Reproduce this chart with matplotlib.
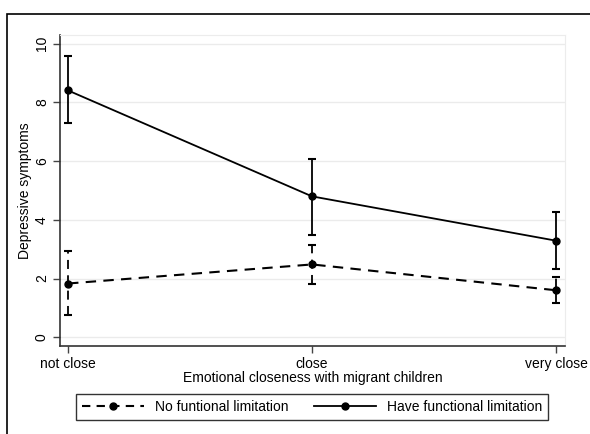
import numpy as np
import matplotlib
matplotlib.use("Agg")
import matplotlib.pyplot as plt
from matplotlib.patches import Rectangle
from matplotlib.lines import Line2D

plt.rcParams['font.family'] = ['Liberation Sans', 'DejaVu Sans']

# Data
categories = ["not close", "close", "very close"]
no_limit = [1.83, 2.48, 1.60]
no_limit_lo = [0.74, 1.83, 1.17]
no_limit_hi = [2.94, 3.14, 2.06]
have_limit = [8.41, 4.80, 3.29]
have_limit_lo = [7.30, 3.50, 2.31]
have_limit_hi = [9.58, 6.08, 4.28]

x = np.arange(len(categories))

fig = plt.figure(figsize=(5.9, 4.34), dpi=100)
ax = fig.add_axes([60 / 590, 1 - 346 / 434, 505 / 590, 311 / 434])

# outer frame
fig.add_artist(Rectangle((7 / 590, -0.1), 1.2, 1.1 - 14 / 434, transform=fig.transFigure,
                         fill=False, edgecolor='black', linewidth=1.2))

dash = (0, (5, 3.5))

# no functional limitation (dashed)
err = [np.array(no_limit) - np.array(no_limit_lo), np.array(no_limit_hi) - np.array(no_limit)]
eb = ax.errorbar(x, no_limit, yerr=err, color='black', linestyle='--', linewidth=1.5,
                 marker='o', markersize=5, capsize=3, capthick=1.5, elinewidth=1.3)
eb[0].set_dashes([5, 3.5])
eb[2][0].set_linestyle(dash)

# have functional limitation (solid)
err2 = [np.array(have_limit) - np.array(have_limit_lo), np.array(have_limit_hi) - np.array(have_limit)]
ax.errorbar(x, have_limit, yerr=err2, color='black', linestyle='-', linewidth=1.3,
            marker='o', markersize=5, capsize=3, capthick=1.5, elinewidth=1.3)

ax.set_xlim(-0.033, 2.037)
ax.set_ylim(-0.3, 10.3)
ax.set_yticks([0, 2, 4, 6, 8, 10])
ax.set_xticks(x)
ax.set_xticklabels(categories, fontsize=10)
for lbl in ax.get_yticklabels():
    lbl.set_rotation(90)
    lbl.set_va('center')
    lbl.set_fontsize(10)
ax.tick_params(axis='both', direction='out', length=5, width=1, color='#444444', pad=3)
ax.grid(axis='y', color='#ebebeb', linewidth=1)
ax.set_axisbelow(True)
for s in ['top', 'right']:
    ax.spines[s].set_color('#ececec')
for s in ['left', 'bottom']:
    ax.spines[s].set_color('#333333')
    ax.spines[s].set_linewidth(1.2)

ax.set_ylabel("Depressive symptoms", fontsize=10, labelpad=2)
ax.set_xlabel("Emotional closeness with migrant children", fontsize=10, labelpad=0)

handles = [
    Line2D([], [], color='black', linestyle='--', dashes=[4, 3], linewidth=1.5, marker='o', markersize=5),
    Line2D([], [], color='black', linestyle='-', linewidth=1.3, marker='o', markersize=5),
]
fig.legend(handles, ["No funtional limitation", "Have functional limitation"],
           loc='center', bbox_to_anchor=(312 / 590, 1 - 407 / 434), ncol=2, fontsize=10,
           frameon=True, fancybox=False, edgecolor='black', handlelength=4.5,
           columnspacing=1.8, borderpad=0.4)

fig.savefig("out.png", dpi=100)
